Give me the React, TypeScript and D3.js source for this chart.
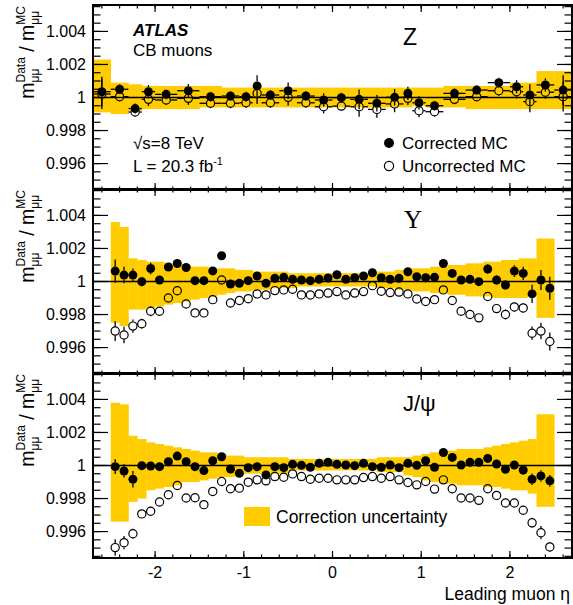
import React from 'react';
import * as d3 from 'd3';

const W = 573;
const H = 605;
const X_MIN = -2.7;
const X_MAX = 2.7;
const Y_MIN = 0.9944;
const Y_MAX = 1.0056;

// ---- Binning ----
const zEdges = [-2.7, -2.5, -2.3, -2.15, -2.0, -1.75, -1.5, -1.25, -1.05, -0.9, -0.8, -0.6, -0.4, -0.2, 0,
  0.2, 0.4, 0.6, 0.8, 0.9, 1.05, 1.25, 1.5, 1.75, 2.0, 2.15, 2.3, 2.5, 2.7];
const fineEdges = [-2.5, -2.4, -2.3, -2.2, -2.1, -2.0, -1.9, -1.8, -1.7, -1.6, -1.5, -1.4, -1.3, -1.2, -1.1, -1.0,
  -0.9, -0.8, -0.7, -0.6, -0.5, -0.4, -0.3, -0.2, -0.1, 0, 0.1, 0.2, 0.3, 0.4, 0.5, 0.6, 0.7, 0.8, 0.9, 1.0,
  1.1, 1.2, 1.3, 1.4, 1.5, 1.6, 1.7, 1.8, 1.9, 2.0, 2.1, 2.2, 2.3, 2.4, 2.5];

// ---- Z ----
const zCorr = [1.00035, 1.0005, 0.99933, 1.00035, 1.00019, 1.00041, 1.00005, 1.00009, 1.00005, 1.0007, 1.00015, 1.00041, 1.00009, 0.99985,
  0.99999, 0.99989, 0.99965, 1.00001, 1.00025, 0.99968, 0.9995, 1.00025, 1.00045, 1.0009, 1.00065, 1.00015, 1.00076, 1.00045];
const zCorrErr = [0.0009, 0.0003, 0.0003, 0.0004, 0.0003, 0.0004, 0.0003, 0.0003, 0.0003, 0.00065, 0.0003, 0.0005, 0.0003, 0.0004,
  0.0003, 0.0006, 0.0005, 0.0005, 0.0004, 0.0004, 0.0003, 0.0003, 0.0003, 0.0003, 0.0004, 0.00065, 0.0004, 0.0009];
const zUnc = [1.00021, 1.00005, 0.99912, 0.99989, 0.99985, 0.99995, 0.99965, 0.99965, 0.99968, 1.00025, 0.99968, 1.00001, 0.99968, 0.99944,
  0.99948, 0.99944, 0.99928, 0.99961, 0.99995, 0.9992, 0.99914, 0.99989, 1.00005, 1.00041, 1.00035, 0.99975, 1.00032, 1.00005];
const zUncErr = [0.0009, 0.0003, 0.0003, 0.0004, 0.0003, 0.0004, 0.0003, 0.0003, 0.0003, 0.00065, 0.0003, 0.0005, 0.0003, 0.0004,
  0.0003, 0.0006, 0.0005, 0.0005, 0.0004, 0.0004, 0.0003, 0.0003, 0.0003, 0.0003, 0.0004, 0.00065, 0.0004, 0.0009];
const zBandHi = [1.0023, 1.0009, 1.0008, 1.0007, 1.0007, 1.0007, 1.0007, 1.0006, 1.0006, 1.0006, 1.0006, 1.0006, 1.0006, 1.0006,
  1.0006, 1.0006, 1.0006, 1.0006, 1.0006, 1.0006, 1.0006, 1.0007, 1.0007, 1.0007, 1.0009, 1.0009, 1.0016, 1.0016];
const zBandLo = [0.9991, 0.999, 0.9992, 0.9993, 0.9993, 0.9993, 0.9994, 0.9994, 0.9994, 0.9994, 0.9994, 0.9994, 0.9994, 0.9994,
  0.9994, 0.9994, 0.9994, 0.9994, 0.9994, 0.9995, 0.9994, 0.9994, 0.9993, 0.9993, 0.9993, 0.9993, 0.9993, 0.9993];

// ---- Upsilon ----
const upsCorr = [1.00063, 1.00039, 1.00039, 0.99999, 1.00079, 1.00009, 1.00088, 1.00109, 1.00085, 1.00005,
  1.00005, 1.00064, 1.00156, 0.99985, 0.99989, 1.00005, 1.00033, 0.99989, 1.00019, 1.00025,
  1.00013, 1.00009, 1.00005, 1.00013, 1.00021, 1.00041, 1.00013, 1.00023, 1.00033, 1.00053,
  1.00023, 1.00013, 1.00019, 1.00059, 1.00029, 1.00023, 1.00025, 1.00109, 1.00049, 1.00009,
  1.00013, 0.99999, 1.00076, 1.00009, 0.99979, 1.00063, 1.00049, 0.99925, 1.00009, 0.99959];
const upsCorrErr = [0.0007, 0.0005, 0.0004, 0.0003, 0.00035, 0.0002, 0.0002, 0.0002, 0.0002, 0.0002,
  0.0002, 0.0002, 0.0002, 0.0002, 0.0002, 0.0002, 0.0002, 0.0002, 0.0002, 0.0002,
  0.0002, 0.0002, 0.0002, 0.0002, 0.0002, 0.0002, 0.0002, 0.0002, 0.0002, 0.0002,
  0.0002, 0.0002, 0.0002, 0.0002, 0.0002, 0.0002, 0.0002, 0.0002, 0.0002, 0.0002,
  0.0002, 0.0002, 0.0003, 0.0003, 0.0003, 0.00035, 0.0004, 0.00055, 0.0006, 0.0007];
const upsUnc = [0.997, 0.99676, 0.9973, 0.99744, 0.9982, 0.9982, 0.999, 0.99944, 0.99864, 0.9981,
  0.9981, 0.9989, 1.00009, 0.9987, 0.99885, 0.99896, 0.99925, 0.99919, 0.99945, 0.99949,
  0.99953, 0.99919, 0.99918, 0.99925, 0.9993, 0.99939, 0.99918, 0.9993, 0.99939, 0.99975,
  0.99941, 0.99933, 0.99936, 0.99925, 0.99894, 0.99879, 0.9989, 0.99949, 0.99885, 0.9982,
  0.998, 0.9978, 0.99909, 0.99836, 0.998, 0.99846, 0.9984, 0.99687, 0.997, 0.99637];
const upsUncErr = [0.0006, 0.0005, 0.0004, 0.0003, 0.0003, 0.0002, 0.0002, 0.0002, 0.0002, 0.0002,
  0.0002, 0.0002, 0.0002, 0.0002, 0.0002, 0.0002, 0.0002, 0.0002, 0.0002, 0.0002,
  0.0002, 0.0002, 0.0002, 0.0002, 0.0002, 0.0002, 0.0002, 0.0002, 0.0002, 0.0002,
  0.0002, 0.0002, 0.0002, 0.0002, 0.0002, 0.0002, 0.0002, 0.0002, 0.0002, 0.0002,
  0.0002, 0.0002, 0.0002, 0.0002, 0.0003, 0.0003, 0.0003, 0.0004, 0.0005, 0.00055];
const upsBandHi = [1.0036, 1.0033, 1.0014, 1.0013, 1.0012, 1.0012, 1.0011, 1.001, 1.001, 1.0009,
  1.0009, 1.0008, 1.0008, 1.0008, 1.0007, 1.0007, 1.0006, 1.0006, 1.0006, 1.0006,
  1.0005, 1.0005, 1.0005, 1.0005, 1.0005, 1.0005, 1.0005, 1.0005, 1.0005, 1.0005,
  1.0006, 1.0006, 1.0007, 1.0007, 1.0008, 1.0008, 1.0009, 1.0009, 1.001, 1.001,
  1.0011, 1.0011, 1.0012, 1.0012, 1.0013, 1.0013, 1.0014, 1.0014, 1.0026, 1.0026];
const upsBandLo = [0.9975, 0.9973, 0.9983, 0.9983, 0.9984, 0.9985, 0.9986, 0.9987, 0.9988, 0.9989,
  0.999, 0.9991, 0.9992, 0.9993, 0.9994, 0.9994, 0.9995, 0.9995, 0.9996, 0.9996,
  0.9996, 0.9997, 0.9997, 0.9997, 0.9997, 0.9997, 0.9997, 0.9997, 0.9997, 0.9997,
  0.9996, 0.9996, 0.9995, 0.9995, 0.9994, 0.9994, 0.9993, 0.9993, 0.9992, 0.9992,
  0.9991, 0.9991, 0.9991, 0.999, 0.999, 0.999, 0.999, 0.9991, 0.9978, 0.9978];

// ---- J/psi ----
const jpsiCorr = [0.99993, 0.99967, 0.99917, 0.99999, 0.99997, 0.99993, 1.00023, 1.00057, 1.00023, 0.99993,
  0.99969, 1.00029, 1.00053, 0.99979, 0.99953, 0.99987, 0.99993, 0.99943, 0.99993, 0.99987,
  1.00007, 1.00001, 0.99989, 1.00013, 1.00019, 1.00007, 1.00003, 0.99999, 1.00013, 0.99993,
  0.99989, 1.00003, 0.99987, 1.00013, 1.00001, 1.00029, 0.99989, 1.00079, 1.00049, 1.00003,
  1.00019, 1.00019, 1.00043, 1.00009, 0.99977, 1.00003, 0.99973, 0.99917, 0.99937, 0.99907];
const jpsiCorrErr = [0.00045, 0.0004, 0.0005, 0.0002, 0.0002, 0.0002, 0.0002, 0.0002, 0.0002, 0.0002,
  0.0002, 0.0002, 0.0002, 0.0002, 0.0002, 0.0002, 0.0002, 0.0002, 0.0002, 0.0002,
  0.0002, 0.0002, 0.0002, 0.0002, 0.0002, 0.0002, 0.0002, 0.0002, 0.0002, 0.0002,
  0.0002, 0.0002, 0.0002, 0.0002, 0.0002, 0.0002, 0.0002, 0.0002, 0.0002, 0.0002,
  0.0002, 0.0002, 0.0002, 0.0002, 0.0002, 0.0002, 0.0003, 0.00035, 0.00035, 0.00035];
const jpsiUnc = [0.99503, 0.99533, 0.99587, 0.99707, 0.99723, 0.99779, 0.99823, 0.99879, 0.99803, 0.99805,
  0.99763, 0.99843, 0.99903, 0.99859, 0.99863, 0.99899, 0.99913, 0.99907, 0.99933, 0.99929,
  0.99949, 0.99933, 0.99917, 0.99923, 0.99923, 0.99913, 0.99913, 0.99913, 0.99927, 0.99933,
  0.99923, 0.99933, 0.99913, 0.99897, 0.99883, 0.99903, 0.99857, 0.99913, 0.99859, 0.99803,
  0.99803, 0.99789, 0.99859, 0.99819, 0.99773, 0.99773, 0.99729, 0.99653, 0.99593, 0.99507];
const jpsiUncErr = [0.0005, 0.0004, 0.0003, 0.0002, 0.0002, 0.0002, 0.0002, 0.0002, 0.0002, 0.0002,
  0.0002, 0.0002, 0.0002, 0.0002, 0.0002, 0.0002, 0.0002, 0.0002, 0.0002, 0.0002,
  0.0002, 0.0002, 0.0002, 0.0002, 0.0002, 0.0002, 0.0002, 0.0002, 0.0002, 0.0002,
  0.0002, 0.0002, 0.0002, 0.0002, 0.0002, 0.0002, 0.0002, 0.0002, 0.0002, 0.0002,
  0.0002, 0.0002, 0.0002, 0.0002, 0.0002, 0.0002, 0.0002, 0.0003, 0.0004, 0.0003];
const jpsiBandHi = [1.0038, 1.0037, 1.0018, 1.0016, 1.0014, 1.0013, 1.0012, 1.0011, 1.001, 1.0009,
  1.0008, 1.0008, 1.0007, 1.0006, 1.0006, 1.0005, 1.0005, 1.0005, 1.0005, 1.0005,
  1.0004, 1.0004, 1.0004, 1.0004, 1.0004, 1.0004, 1.0004, 1.0004, 1.0004, 1.0004,
  1.0005, 1.0005, 1.0005, 1.0005, 1.0006, 1.0007, 1.0008, 1.0009, 1.0009, 1.001,
  1.001, 1.001, 1.0011, 1.0012, 1.0013, 1.0014, 1.0015, 1.0016, 1.0031, 1.0031];
const jpsiBandLo = [0.9966, 0.9966, 0.9978, 0.998, 0.9985, 0.9986, 0.9987, 0.9988, 0.999, 0.999,
  0.9991, 0.9992, 0.9993, 0.9993, 0.9994, 0.9995, 0.9995, 0.9995, 0.9995, 0.9995,
  0.9997, 0.9997, 0.9997, 0.9997, 0.9997, 0.9997, 0.9997, 0.9997, 0.9997, 0.9997,
  0.9996, 0.9996, 0.9996, 0.9994, 0.9993, 0.9991, 0.999, 0.9989, 0.9989, 0.9988,
  0.9988, 0.9988, 0.9987, 0.9987, 0.9986, 0.9985, 0.9985, 0.9983, 0.9975, 0.9975];

// ---- Axis labels ----
const yMajorTicks = [0.996, 0.998, 1, 1.002, 1.004];
const yTickLabels = ['0.996', '0.998', '1', '1.002', '1.004'];
const xMajorTicks = [-2, -1, 0, 1, 2];
const xTickLabels = ['-2', '-1', '0', '1', '2'];

const FONT = "'Liberation Sans', Arial, Helvetica, sans-serif";
const SERIF = "'Liberation Serif', 'Times New Roman', serif";
const YELLOW = '#ffcc00';

const PLOT_L = 93;
const PLOT_R = 572;
const PH = 185;
const PANEL_TOPS = [5, 189, 373];

const x = d3.scaleLinear().domain([X_MIN, X_MAX]).range([PLOT_L, PLOT_R]);
const yMinor = d3.range(0, 23).map((i) => +(0.9945 + i * 0.0005).toFixed(4));
const xMinor = d3.range(0, 27).map((i) => +(-2.6 + i * 0.2).toFixed(1));

const R = 4.5;

function vSeg(cx: number, y1: number, y2: number, cy: number, r: number, key: string) {
  const out: any[] = [];
  if (y1 < cy - r) out.push(<line key={key + 'a'} x1={cx} x2={cx} y1={y1} y2={cy - r} />);
  if (y2 > cy + r) out.push(<line key={key + 'b'} x1={cx} x2={cx} y1={cy + r} y2={y2} />);
  return out;
}
function hSeg(cy: number, x1: number, x2: number, cx: number, r: number, key: string) {
  const out: any[] = [];
  if (x1 < cx - r) out.push(<line key={key + 'c'} x1={x1} x2={cx - r} y1={cy} y2={cy} />);
  if (x2 > cx + r) out.push(<line key={key + 'd'} x1={cx + r} x2={x2} y1={cy} y2={cy} />);
  return out;
}

function YTitle({ top }: { top: number }) {
  const F = 19.5;
  const f = 12;
  const parts = [
    { t: 'm', fs: F, dy: 0, w: 0.833 * F, adv: true },
    { t: 'μμ', fs: f, dy: 5, w: 0, adv: false },
    { t: 'Data', fs: f, dy: -9, w: 2.112 * f, adv: true },
    { t: ' / ', fs: F, dy: 0, w: 0.834 * F, adv: true },
    { t: 'm', fs: F, dy: 0, w: 0.833 * F, adv: true },
    { t: 'μμ', fs: f, dy: 5, w: 0, adv: false },
    { t: 'MC', fs: f, dy: -9, w: 1.555 * f, adv: true },
  ];
  const total = parts.reduce((s, p) => s + p.w, 0);
  let pos = -total;
  const els: any[] = [];
  parts.forEach((p, i) => {
    els.push(
      <text key={i} x={pos} y={p.dy} fontSize={p.fs} fontFamily={FONT} fill="#000" style={{ whiteSpace: 'pre' }}>
        {p.t}
      </text>
    );
    if (p.adv) pos += p.w;
  });
  return <g transform={`translate(34,${top + 1}) rotate(-90)`}>{els}</g>;
}

type PanelProps = {
  top: number;
  edges: number[];
  corr: number[];
  corrErr: number[];
  unc: number[];
  uncErr: number[];
  bandLo: number[];
  bandHi: number[];
  showXLabels: boolean;
};

function Panel(p: PanelProps) {
  const y = d3.scaleLinear().domain([Y_MIN, Y_MAX]).range([p.top + PH, p.top]);
  const bottom = p.top + PH;
  const centers = p.corr.map((_, i) => (p.edges[i] + p.edges[i + 1]) / 2);
  return (
    <g>
      <g fill={YELLOW}>
        {p.bandHi.map((hi, i) => (
          <rect key={i} x={x(p.edges[i])} width={x(p.edges[i + 1]) - x(p.edges[i]) + 0.3} y={y(hi)} height={y(p.bandLo[i]) - y(hi)} />
        ))}
      </g>
      <line x1={PLOT_L} x2={PLOT_R} y1={y(1)} y2={y(1)} stroke="#000" strokeWidth={1.4} />
      <g stroke="#000" strokeWidth={1.3}>
        {p.unc.map((v, i) => {
          const cx = x(centers[i]);
          const cy = y(v);
          return (
            <g key={i}>
              {vSeg(cx, y(v + p.uncErr[i]), y(v - p.uncErr[i]), cy, R, 'u' + i)}
              {hSeg(cy, x(p.edges[i]), x(p.edges[i + 1]), cx, R, 'u' + i)}
              <circle cx={cx} cy={cy} r={R - 0.4} fill="none" strokeWidth={1.2} />
            </g>
          );
        })}
      </g>
      <g stroke="#000" strokeWidth={1.3}>
        {p.corr.map((v, i) => {
          const cx = x(centers[i]);
          const cy = y(v);
          return (
            <g key={i}>
              {vSeg(cx, y(v + p.corrErr[i]), y(v - p.corrErr[i]), cy, R, 'c' + i)}
              {hSeg(cy, x(p.edges[i]), x(p.edges[i + 1]), cx, R, 'c' + i)}
              <circle cx={cx} cy={cy} r={R} fill="#000" stroke="none" />
            </g>
          );
        })}
      </g>
      <g stroke="#000" strokeWidth={1.2}>
        {yMajorTicks.map((t) => (
          <g key={'ym' + t}>
            <line x1={PLOT_L} x2={PLOT_L + 15} y1={y(t)} y2={y(t)} />
            <line x1={PLOT_R} x2={PLOT_R - 15} y1={y(t)} y2={y(t)} />
          </g>
        ))}
        {yMinor.map((t) => (
          <g key={'yn' + t}>
            <line x1={PLOT_L} x2={PLOT_L + 7.5} y1={y(t)} y2={y(t)} />
            <line x1={PLOT_R} x2={PLOT_R - 7.5} y1={y(t)} y2={y(t)} />
          </g>
        ))}
        {xMajorTicks.map((t) => (
          <g key={'xm' + t}>
            <line x1={x(t)} x2={x(t)} y1={bottom} y2={bottom - 7} />
            <line x1={x(t)} x2={x(t)} y1={p.top} y2={p.top + 7} />
          </g>
        ))}
        {xMinor.map((t) => (
          <g key={'xn' + t}>
            <line x1={x(t)} x2={x(t)} y1={bottom} y2={bottom - 3.5} />
            <line x1={x(t)} x2={x(t)} y1={p.top} y2={p.top + 3.5} />
          </g>
        ))}
      </g>
      <rect x={PLOT_L} y={p.top} width={PLOT_R - PLOT_L} height={PH} fill="none" stroke="#000" strokeWidth={2} />
      <g fontFamily={FONT} fontSize={16} textAnchor="end" fill="#000">
        {yMajorTicks.map((t, i) => (
          <text key={t} x={86} y={y(t) + 5.8}>
            {yTickLabels[i]}
          </text>
        ))}
      </g>
      {p.showXLabels && (
        <g fontFamily={FONT} fontSize={16} textAnchor="middle" fill="#000">
          {xMajorTicks.map((t, i) => (
            <text key={t} x={x(t)} y={578}>
              {xTickLabels[i]}
            </text>
          ))}
        </g>
      )}
      <YTitle top={p.top} />
    </g>
  );
}

export default function App() {
  return (
    <svg width={W} height={H} style={{ position: 'absolute', left: 0, top: 0, background: '#fff' }}>
      <rect width={W} height={H} fill="#fff" />
      <Panel top={PANEL_TOPS[0]} edges={zEdges} corr={zCorr} corrErr={zCorrErr} unc={zUnc} uncErr={zUncErr}
        bandLo={zBandLo} bandHi={zBandHi} showXLabels={false} />
      <Panel top={PANEL_TOPS[1]} edges={fineEdges} corr={upsCorr} corrErr={upsCorrErr} unc={upsUnc} uncErr={upsUncErr}
        bandLo={upsBandLo} bandHi={upsBandHi} showXLabels={false} />
      <Panel top={PANEL_TOPS[2]} edges={fineEdges} corr={jpsiCorr} corrErr={jpsiCorrErr} unc={jpsiUnc} uncErr={jpsiUncErr}
        bandLo={jpsiBandLo} bandHi={jpsiBandHi} showXLabels={true} />

      <text x={133} y={36} fontFamily={FONT} fontSize={17} fontWeight="bold" fontStyle="italic">ATLAS</text>
      <text x={133} y={56} fontFamily={FONT} fontSize={17}>CB muons</text>
      <text x={403} y={45} fontFamily={FONT} fontSize={23}>Z</text>
      <text x={133} y={149} fontFamily={FONT} fontSize={17}>√s=8 TeV</text>
      <text x={133} y={172} fontFamily={FONT} fontSize={17}>
        L = 20.3 fb<tspan dy={-7} fontSize={11}>-1</tspan>
      </text>
      <circle cx={389} cy={143} r={5} fill="#000" />
      <text x={402} y={149} fontFamily={FONT} fontSize={17}>Corrected MC</text>
      <circle cx={389} cy={166} r={4.6} fill="none" stroke="#000" strokeWidth={1.2} />
      <text x={402} y={172} fontFamily={FONT} fontSize={17}>Uncorrected MC</text>

      <text x={404} y={228} fontFamily={SERIF} fontSize={25}>Υ</text>
      <text x={403} y={411} fontFamily={FONT} fontSize={22}>J/ψ</text>
      <rect x={244} y={507} width={26} height={19} fill={YELLOW} />
      <text x={276} y={523} fontFamily={FONT} fontSize={17.5}>Correction uncertainty</text>

      <text x={570} y={600} fontFamily={FONT} fontSize={17.5} textAnchor="end">Leading muon η</text>
    </svg>
  );
}
